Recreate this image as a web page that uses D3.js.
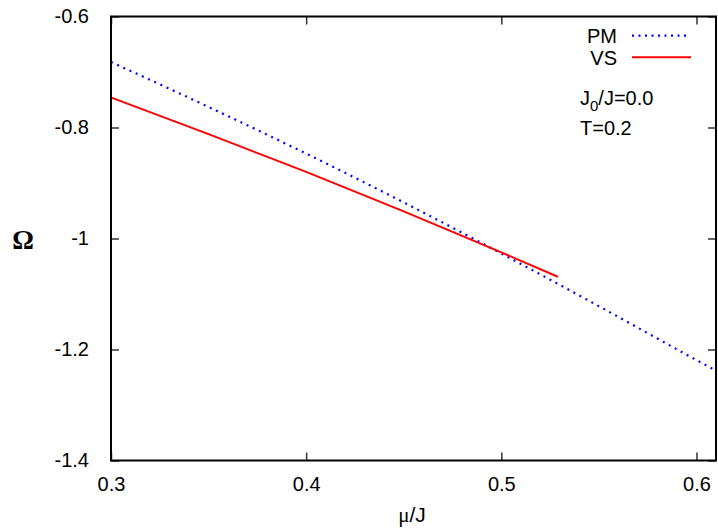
<!DOCTYPE html>
<html>
<head>
<meta charset="utf-8">
<script src="https://cdn.jsdelivr.net/npm/d3@7"></script>
<style>
body { margin: 0; background: #fff; }
text { font-family: "Liberation Sans", Arial, sans-serif; }
</style>
</head>
<body>
<script>
// data
var pmX = [0.30, 0.35, 0.40, 0.45, 0.50, 0.55, 0.60, 0.61];
var pmY = [-0.682, -0.763, -0.847, -0.935, -1.027, -1.122, -1.219, -1.238];
var vsX = [0.30, 0.35, 0.40, 0.45, 0.50, 0.529];
var vsY = [-0.746, -0.812, -0.880, -0.951, -1.025, -1.069];
var xTicks = [0.3, 0.4, 0.5, 0.6];
var yTicks = [-1.4, -1.2, -1, -0.8, -0.6];

var w = 718, h = 532;
var pl = 111, pr = 716, pt = 16.5, pb = 460.5;
var fs = 20;

var svg = d3.select("body").append("svg")
    .attr("width", w)
    .attr("height", h);

var x = d3.scaleLinear().domain([0.3, 0.61]).range([pl, pr]);
var y = d3.scaleLinear().domain([-1.4, -0.6]).range([pb, pt]);

// plain hyphen minus like the original
function fmt(d) {
    var s = d === -1 ? "-1" : d.toFixed(1);
    return s.replace("\u2212", "-");
}

var tl = 8;
// ticks on all four sides, pointing in
svg.append("g").attr("transform", "translate(0," + pb + ")")
    .call(d3.axisBottom(x).tickValues(xTicks).tickSizeInner(-tl).tickSizeOuter(0).tickPadding(16)
        .tickFormat(fmt));
svg.append("g").attr("transform", "translate(0," + pt + ")")
    .call(d3.axisTop(x).tickValues(xTicks).tickSizeInner(-tl).tickSizeOuter(0).tickFormat(""));
svg.append("g").attr("transform", "translate(" + pl + ",0)")
    .call(d3.axisLeft(y).tickValues(yTicks).tickSizeInner(-tl).tickSizeOuter(0).tickPadding(22)
        .tickFormat(fmt));
svg.append("g").attr("transform", "translate(" + pr + ",0)")
    .call(d3.axisRight(y).tickValues(yTicks).tickSizeInner(-tl).tickSizeOuter(0).tickFormat(""));

svg.selectAll(".domain").remove();
svg.selectAll(".tick line").attr("stroke", "#333").attr("stroke-width", 1.5);
svg.selectAll(".tick text").attr("font-size", fs).attr("fill", "#000")
    .style("font-family", "'Liberation Sans', Arial, sans-serif");

// lines
var pm = pmX.map(function(d, i){ return [d, pmY[i]]; });
var vs = vsX.map(function(d, i){ return [d, vsY[i]]; });
var line = d3.line().curve(d3.curveMonotoneX)
    .x(function(d){ return x(d[0]); })
    .y(function(d){ return y(d[1]); });

svg.append("path").datum(pm)
    .attr("d", line)
    .attr("fill", "none")
    .attr("stroke", "#0000ff")
    .attr("stroke-width", 2.2)
    .attr("stroke-dasharray", "2,4.8");

svg.append("path").datum(vs)
    .attr("d", line)
    .attr("fill", "none")
    .attr("stroke", "#ff0000")
    .attr("stroke-width", 2);

// frame
svg.append("rect")
    .attr("x", pl).attr("y", pt)
    .attr("width", pr - pl).attr("height", pb - pt)
    .attr("fill", "none").attr("stroke", "#000").attr("stroke-width", 2);

// legend
var leg = svg.append("g");
leg.append("text").attr("x", 617).attr("y", 43).attr("text-anchor", "end")
    .attr("font-size", fs).text("PM");
leg.append("line").attr("x1", 632).attr("x2", 689).attr("y1", 35.7).attr("y2", 35.7)
    .attr("stroke", "#0000ff").attr("stroke-width", 2.2).attr("stroke-dasharray", "2,4.5");
leg.append("text").attr("x", 617).attr("y", 65).attr("text-anchor", "end")
    .attr("font-size", fs).text("VS");
leg.append("line").attr("x1", 632).attr("x2", 691).attr("y1", 57.3).attr("y2", 57.3)
    .attr("stroke", "#ff0000").attr("stroke-width", 2);

// labels in the plot
var lab = svg.append("text").attr("x", 580).attr("y", 105).attr("font-size", fs);
lab.append("tspan").text("J");
lab.append("tspan").attr("dy", 6).attr("font-size", 15).text("0");
lab.append("tspan").attr("dy", -6).text("/J=0.0");
svg.append("text").attr("x", 580).attr("y", 135).attr("font-size", fs).text("T=0.2");

// axis titles
svg.append("text").attr("x", 23).attr("y", 249).attr("text-anchor", "middle")
    .style("font-family", "'Liberation Serif', 'DejaVu Serif', serif")
    .attr("font-size", 27).attr("font-weight", "bold").text("Ω");
var xl = svg.append("text").attr("x", 412).attr("y", 522).attr("text-anchor", "middle")
    .attr("font-size", 21);
xl.append("tspan").style("font-family", "'Liberation Serif', serif").text("μ");
xl.append("tspan").text("/J");
</script>
</body>
</html>
